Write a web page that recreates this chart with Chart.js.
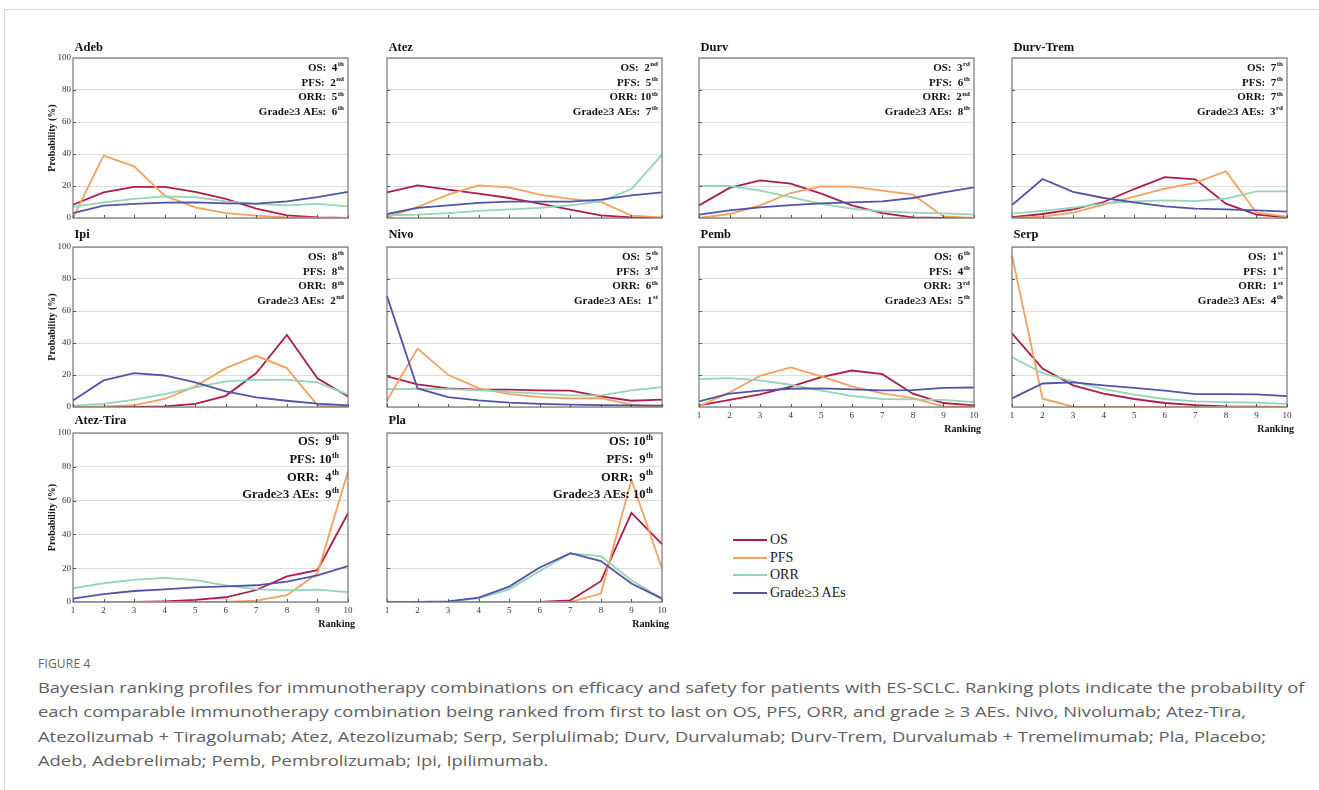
<!DOCTYPE html>
<html>
<head>
<meta charset="utf-8">
<script src="https://cdn.jsdelivr.net/npm/chart.js@4.4.1/dist/chart.umd.min.js"></script>
<style>
  body { margin: 0; background: #fff; width: 1319px; height: 790px; overflow: hidden; position: relative; font-family: "Liberation Serif", serif; }
  .frame { position: absolute; left: 4px; top: 9px; right: 0; bottom: 0; border-top: 1px solid #d4d4d4; border-left: 1px solid #d4d4d4; }
  canvas.panel { position: absolute; }
  .legend { position: absolute; left: 733px; top: 531px; }
  .legend .row { height: 17.8px; display: flex; align-items: center; font-size: 14px; color: #222; }
  .legend .sw { width: 34px; height: 2px; margin-right: 3px; }
  .caption { position: absolute; left: 38px; top: 653px; font-family: "Open Sans", sans-serif; color: #606060; }
  .caption .fig { font-size: 12px; color: #666; letter-spacing: 0.2px; height: 22px; line-height: 22px; }
  .caption .ln { font-size: 15px; white-space: nowrap; height: 24.3px; line-height: 24.3px; transform-origin: left center; }
</style>
</head>
<body>
<div class="frame"></div>
<div id="panels"></div>
<div class="legend" id="legend"></div>
<div class="caption">
  <div class="fig">FIGURE 4</div>
  <div class="ln">Bayesian ranking profiles for immunotherapy combinations on efficacy and safety for patients with ES-SCLC. Ranking plots indicate the probability of</div>
  <div class="ln">each comparable immunotherapy combination being ranked from first to last on OS, PFS, ORR, and grade ≥ 3 AEs. Nivo, Nivolumab; Atez-Tira,</div>
  <div class="ln">Atezolizumab + Tiragolumab; Atez, Atezolizumab; Serp, Serplulimab; Durv, Durvalumab; Durv-Trem, Durvalumab + Tremelimumab; Pla, Placebo;</div>
  <div class="ln">Adeb, Adebrelimab; Pemb, Pembrolizumab; Ipi, Ipilimumab.</div>
</div>
<script>
// Données (probabilité en %, rang 1 à 10)
const rankings = ['1', '2', '3', '4', '5', '6', '7', '8', '9', '10'];
const drugs = ['Adeb', 'Atez', 'Durv', 'Durv-Trem', 'Ipi', 'Nivo', 'Pemb', 'Serp', 'Atez-Tira', 'Pla'];
const seriesNames = ['OS', 'PFS', 'ORR', 'Grade≥3 AEs'];
const seriesColors = ['#B01B4D', '#F5A05C', '#93D5B5', '#5253AA'];

const osProb = [
  [8.3, 16, 19.4, 19.4, 16.3, 11.9, 5.8, 1.7, 0.4, 0],
  [16, 20.4, 17.7, 15.2, 12.5, 9, 5.2, 1.7, 0.4, 0],
  [7.9, 18.8, 23.5, 21.5, 15.2, 7.9, 3.1, 0.4, 0, 0],
  [0.6, 2.5, 5.4, 10, 18.1, 25.6, 24.2, 9, 2.1, 0.4],
  [0, 0, 0, 0.4, 1.9, 7, 21.2, 45, 18, 6.6],
  [19.1, 14.1, 11.6, 10.8, 10.8, 10.4, 10.2, 6.6, 3.9, 4.6],
  [1, 4.4, 7.9, 12.7, 18.7, 22.8, 20.5, 8.3, 2.5, 1],
  [46, 24, 13.5, 8.3, 5, 2.5, 1.2, 0.4, 0.2, 0],
  [0, 0, 0, 0.4, 1.2, 2.8, 7.1, 15.2, 18.8, 52.5],
  [0, 0, 0, 0, 0, 0, 1, 12.3, 52.7, 34.3]
];
const pfsProb = [
  [0, 39, 32.3, 14, 6.7, 3.1, 1.5, 0.4, 0, 0],
  [0.4, 6.9, 14.6, 20.4, 19.2, 14.6, 11.9, 10, 1.5, 0.4],
  [0, 2.5, 7.9, 15.6, 19.8, 19.6, 17.1, 14.6, 1, 0],
  [0, 0.8, 3.3, 8.3, 13.3, 18.3, 21.9, 29.2, 3.3, 0.8],
  [0, 0.4, 1.2, 5, 12.9, 24.3, 32, 24.3, 1, 0.2],
  [4.1, 36.5, 20.1, 11.8, 8.1, 6.2, 5.4, 5.6, 1.5, 0.2],
  [0.4, 9.1, 19.5, 24.7, 19.1, 12.9, 8.5, 5.6, 0.4, 0.2],
  [94.8, 5.2, 0.2, 0, 0, 0, 0, 0, 0, 0],
  [0, 0, 0, 0, 0, 0, 0.8, 4, 16.8, 77.2],
  [0, 0, 0, 0, 0, 0, 0, 5, 72.3, 19.8]
];
const orrProb = [
  [6.9, 9.8, 12, 13.5, 13.1, 10.4, 8.8, 7.9, 8.8, 7.3],
  [1.7, 2.1, 3.1, 4.4, 5.4, 6.3, 7.9, 10.4, 18.1, 39.6],
  [20, 20, 17.1, 13.1, 8.8, 5.8, 4.2, 3.3, 2.9, 2.1],
  [2.7, 4.4, 6.5, 9, 10.4, 11, 10.6, 12.1, 16.7, 16.7],
  [0.8, 1.9, 4.6, 8.1, 12.2, 16, 17, 17, 15.4, 7.7],
  [11.2, 11.4, 11.2, 10.6, 9.3, 8.3, 7.3, 7.3, 10.4, 12.4],
  [17.4, 18, 16.6, 13.9, 10.2, 7, 5, 4.8, 4.4, 3.1],
  [31.1, 21.2, 16, 11.2, 7.7, 5, 3.5, 3.1, 2.7, 1.9],
  [8.1, 11.1, 13.1, 14.3, 12.9, 9.9, 7.5, 6.9, 7.3, 5.9],
  [0, 0, 0.2, 2.2, 7.5, 18.4, 28.7, 27.1, 12.9, 2]
];
const aeProb = [
  [3.1, 7.7, 8.8, 9.6, 9.8, 9.2, 9, 10.4, 13.1, 16.3],
  [2.5, 6.3, 7.9, 9.4, 10.2, 10.2, 10.2, 11.5, 14.2, 16],
  [2.1, 4.8, 6.7, 8.1, 9.2, 9.8, 10.4, 12.5, 16, 19.2],
  [8.1, 24.4, 16.3, 12.5, 9.8, 7.3, 5.8, 5.4, 4.8, 4],
  [4.1, 16.6, 21.2, 19.7, 15.4, 9.8, 6, 3.9, 2.1, 1],
  [69.3, 11.6, 6.2, 4.1, 2.7, 1.9, 1.5, 1.2, 1, 0.8],
  [3.5, 8.3, 10.2, 11.4, 11.6, 11, 10.4, 10.6, 12, 12.2],
  [5.4, 14.7, 15.4, 13.5, 12, 10.2, 8.1, 8.1, 7.9, 6.8],
  [2, 4.6, 6.5, 7.5, 8.7, 9.3, 9.9, 12.1, 15.8, 21.2],
  [0, 0, 0.4, 2.6, 9.1, 20.4, 28.9, 24.2, 10.9, 2]
];

// Rangs affichés dans le coin de chaque panneau
const osRank = ['4th', '2nd', '3rd', '7th', '8th', '5th', '6th', '1st', '9th', '10th'];
const pfsRank = ['2nd', '5th', '6th', '7th', '8th', '3rd', '4th', '1st', '10th', '9th'];
const orrRank = ['5th', '10th', '2nd', '7th', '8th', '6th', '3rd', '1st', '4th', '9th'];
const aeRank = ['6th', '7th', '8th', '3rd', '2nd', '1st', '5th', '4th', '9th', '10th'];

// Géométrie de la grille (zone de tracé de chaque panneau)
const colLeft = [73, 387, 699, 1012];
const plotW = 275;
const rowTop = [58, 247, 433];
const rowH = [160, 160, 169];
const titleGap = [10, 12, 12.5];
const ML = 40, MT = 28, MR = 14, MB = 34;
const serif = '"Liberation Serif", "Times New Roman", serif';

// Légende en HTML
const legendEl = document.getElementById('legend');
seriesNames.forEach((n, k) => {
  const row = document.createElement('div');
  row.className = 'row';
  row.innerHTML = `<div class="sw" style="background:${seriesColors[k]}"></div><span>${n}</span>`;
  legendEl.appendChild(row);
});

// Texte avec suffixe en exposant (4th, 2nd...)
function drawRank(ctx, label, rank, right, y, fs) {
  const num = rank.replace(/[a-z]+$/, '');
  const suf = rank.slice(num.length);
  const gap = num.length > 1 ? ' ' : '  ';
  ctx.fillStyle = '#111';
  ctx.textBaseline = 'middle';
  ctx.textAlign = 'right';
  ctx.font = `bold ${(fs * 0.64).toFixed(1)}px ${serif}`;
  const sw = ctx.measureText(suf).width;
  ctx.fillText(suf, right, y - fs * 0.33);
  ctx.font = `bold ${fs}px ${serif}`;
  ctx.fillText(label + ':' + gap + num, right - sw - 0.5, y);
}

const panelDeco = {
  id: 'panelDeco',
  afterDraw(chart, args, o) {
    const { ctx, chartArea: a } = chart;
    ctx.save();
    // cadre
    ctx.strokeStyle = '#777';
    ctx.lineWidth = 1.2;
    ctx.strokeRect(a.left, a.top, a.right - a.left, a.bottom - a.top);
    // petites graduations vers l'intérieur
    ctx.lineWidth = 1;
    ctx.strokeStyle = '#555';
    const xs = chart.scales.x, ys = chart.scales.y;
    rankings.forEach((r, i) => {
      const px = Math.round(xs.getPixelForValue(i)) + 0.5;
      ctx.beginPath(); ctx.moveTo(px, a.bottom); ctx.lineTo(px, a.bottom - 3); ctx.stroke();
    });
    [20, 40, 60, 80].forEach(v => {
      const py = Math.round(ys.getPixelForValue(v)) + 0.5;
      ctx.beginPath(); ctx.moveTo(a.left, py); ctx.lineTo(a.left + 3, py); ctx.stroke();
    });
    // titre du panneau
    ctx.fillStyle = '#111';
    ctx.font = `bold 12.5px ${serif}`;
    ctx.textAlign = 'left';
    ctx.textBaseline = 'middle';
    ctx.fillText(o.title, a.left + 1.5, a.top - o.titleGap);
    // rangs
    const big = o.big;
    const fs = big ? 12.5 : 11;
    const step = big ? 17.7 : 14.7;
    const y0 = a.top + (big ? 9 : 10);
    const right = a.right - (big ? 9 : 4);
    drawRank(ctx, 'OS', o.ranks[0], right, y0, fs);
    drawRank(ctx, 'PFS', o.ranks[1], right, y0 + step, fs);
    drawRank(ctx, 'ORR', o.ranks[2], right, y0 + step * 2, fs);
    drawRank(ctx, 'Grade≥3 AEs', o.ranks[3], right, y0 + step * 3, fs);
    // titre axe Y
    if (o.showY) {
      ctx.save();
      ctx.translate(a.left - 21, (a.top + a.bottom) / 2);
      ctx.rotate(-Math.PI / 2);
      ctx.textAlign = 'center';
      ctx.font = `bold 10px ${serif}`;
      ctx.fillText('Probability (%)', 0, 0);
      ctx.restore();
    }
    // titre axe X
    if (o.showX) {
      ctx.textAlign = 'right';
      ctx.font = `bold 10px ${serif}`;
      ctx.fillText('Ranking', a.right + 7, a.bottom + 22);
    }
    ctx.restore();
  }
};

const holder = document.getElementById('panels');
drugs.forEach((name, i) => {
  const row = Math.floor(i / 4), col = i % 4;
  const left = colLeft[col], top = rowTop[row], h = rowH[row];
  const showX = (i === 6 || i === 7 || row === 2);
  const showY = col === 0;

  const cv = document.createElement('canvas');
  cv.className = 'panel';
  const W = plotW + ML + MR, H = h + MT + MB;
  cv.width = W; cv.height = H;
  cv.style.left = (left - ML) + 'px';
  cv.style.top = (top - MT) + 'px';
  cv.style.width = W + 'px';
  cv.style.height = H + 'px';
  holder.appendChild(cv);

  const allSeries = [osProb[i], pfsProb[i], orrProb[i], aeProb[i]];
  new Chart(cv.getContext('2d'), {
    type: 'line',
    data: {
      labels: rankings,
      datasets: allSeries.map((d, k) => ({
        label: seriesNames[k],
        data: d,
        borderColor: seriesColors[k],
        backgroundColor: seriesColors[k],
        borderWidth: 1.8,
        pointRadius: 0,
        tension: 0,
        fill: false
      })).reverse()
    },
    options: {
      responsive: false,
      animation: false,
      layout: { autoPadding: false, padding: { left: 0, top: MT, right: MR, bottom: 0 } },
      plugins: {
        legend: { display: false },
        tooltip: { enabled: false },
        panelDeco: { title: name, titleGap: titleGap[row], big: row === 2, showX, showY,
          ranks: [osRank[i], pfsRank[i], orrRank[i], aeRank[i]] }
      },
      scales: {
        x: {
          type: 'category', offset: false,
          grid: { display: false, drawTicks: false }, border: { display: false },
          ticks: { display: showX, autoSkip: false, maxRotation: 0, padding: 3, color: '#333',
            font: { family: serif, size: 9 } },
          afterFit(s) { s.height = MB; }
        },
        y: {
          min: 0, max: 100,
          grid: { color: '#dcdcdc', lineWidth: 1, drawTicks: false }, border: { display: false },
          ticks: { display: showY, stepSize: 20, padding: 2, color: '#333',
            font: { family: serif, size: 9 } },
          afterFit(s) { s.width = ML; }
        }
      }
    },
    plugins: [panelDeco]
  });
});

// Ajuste la légende du bas à la largeur de la figure
const lines = document.querySelectorAll('.caption .ln');
const w0 = lines[0].scrollWidth;
const k = 1266 / w0;
lines.forEach(l => { l.style.transform = `scaleX(${k})`; });
</script>
</body>
</html>
